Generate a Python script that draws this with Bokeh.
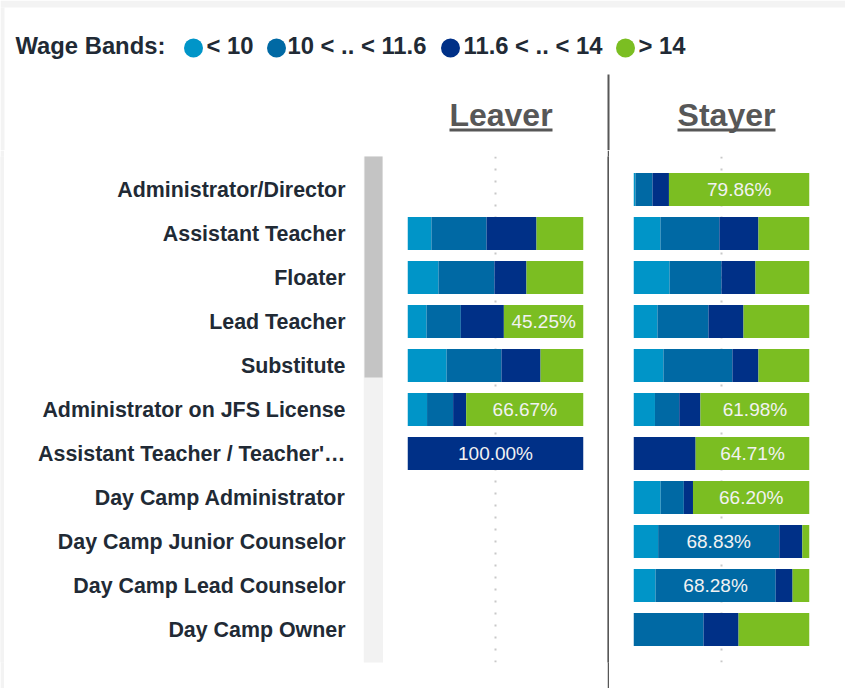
from bokeh.plotting import figure
from bokeh.layouts import column, row
from bokeh.models import ColumnDataSource, FactorRange, Range1d, FixedTicker, Grid
from bokeh.core.properties import value
from bokeh.embed import file_html
from bokeh.resources import INLINE

# ---------------- data ----------------
roles = ["Administrator/Director", "Assistant Teacher", "Floater", "Lead Teacher",
         "Substitute", "Administrator on JFS License", "Assistant Teacher / Teacher'\u2026",
         "Day Camp Administrator", "Day Camp Junior Counselor", "Day Camp Lead Counselor",
         "Day Camp Owner"]
band_labels = ["< 10", "10 < .. < 11.6", "11.6 < .. < 14", "> 14"]
band_keys = ["b1", "b2", "b3", "b4"]
panel_titles = ["Leaver", "Stayer"]

leaver_b1 = [0, 13.6, 17.6, 10.8, 22.2, 11.11, 0, 0, 0, 0, 0]
leaver_b2 = [0, 31.3, 31.8, 19.5, 31.2, 14.81, 0, 0, 0, 0, 0]
leaver_b3 = [0, 28.4, 18.2, 24.45, 22.2, 7.41, 100.0, 0, 0, 0, 0]
leaver_b4 = [0, 26.7, 32.4, 45.25, 24.4, 66.67, 0, 0, 0, 0, 0]

stayer_b1 = [1.1, 15.3, 20.5, 13.6, 17.0, 12.2, 0, 15.4, 14.0, 12.5, 0]
stayer_b2 = [9.7, 33.5, 29.5, 29.0, 39.2, 13.8, 0, 13.2, 68.83, 68.28, 39.8]
stayer_b3 = [9.34, 22.2, 19.3, 19.9, 14.8, 12.02, 35.29, 5.2, 13.1, 9.61, 19.9]
stayer_b4 = [79.86, 29.0, 30.7, 37.5, 29.0, 61.98, 64.71, 66.2, 4.07, 9.61, 40.3]

grid_ticks = [0, 50]
label_threshold = 45

# ---------------- styles ----------------
colors = ["#0095C8", "#0069A4", "#003087", "#7BBE22"]
FONT = value("Liberation Sans")
dark = "#212a35"
grey = "#575757"
chrome = "#f3f3f3"

yr = FactorRange(factors=roles[::-1], range_padding=0.25, range_padding_units="absolute")

ROW_H = 538
TOP_H = 150
FRAME_TOP = 156      # page y of the bar panels' frame top
FRAME_BOTTOM = 662   # page y of the bar panels' frame bottom


def base_fig(width, height, x_range, y_range, fill="white", **kw):
    p = figure(width=width, height=height, x_range=x_range, y_range=y_range,
               toolbar_location=None, output_backend="svg",
               x_axis_location=None, y_axis_location=None, **kw)
    p.outline_line_color = None
    p.grid.visible = False
    p.background_fill_color = fill
    p.border_fill_color = fill
    return p


# ---------------- top: legend, headers ----------------
top = base_fig(845, TOP_H, Range1d(0, 845), Range1d(TOP_H, 0), min_border=0)
top.quad(left=[0], right=[845], top=[0], bottom=[7], fill_color=chrome, line_color=None)
top.quad(left=[0], right=[4], top=[7], bottom=[TOP_H], fill_color=chrome, line_color=None)
top.text(x=[15], y=[45], text=["Wage Bands:"], text_font=FONT, text_font_size="23.8px",
         text_font_style="bold", text_color=dark, text_baseline="middle")
leg_circle_x = [193, 276, 450, 625]
leg_text_x = [206, 287, 463, 638]
top.scatter(x=leg_circle_x, y=[47.5] * 4, size=19, marker="circle",
            fill_color=colors, line_color=None)
top.text(x=leg_text_x, y=[45] * 4, text=band_labels, text_font=FONT, text_font_size="23.8px",
         text_font_style="bold", text_color=dark, text_baseline="middle")
top.text(x=[500.5, 726], y=[114.5, 114.5], text=panel_titles, text_font=FONT,
         text_font_size="32px", text_font_style="bold", text_color=grey,
         text_align="center", text_baseline="middle")
top.segment(x0=[449, 677], x1=[552, 775], y0=[129.5, 129.5], y1=[129.5, 129.5],
            line_color=grey, line_width=3)
top.segment(x0=[608], x1=[608], y0=[74], y1=[TOP_H], line_color=grey, line_width=2)

# ---------------- left chrome strip ----------------
strip = base_fig(4, ROW_H, Range1d(0, 1), Range1d(0, 1), fill=chrome, min_border=0)
strip.quad(left=[0], right=[1], bottom=[0], top=[1], fill_color=chrome, line_color=None)

# ---------------- labels (category axis) ----------------
labels = figure(width=359, height=ROW_H, x_range=Range1d(0, 1), y_range=yr,
                toolbar_location=None, output_backend="svg",
                x_axis_location=None, y_axis_location="left",
                min_border_left=351, min_border_right=0,
                min_border_top=FRAME_TOP - TOP_H, min_border_bottom=TOP_H + ROW_H - FRAME_BOTTOM)
labels.outline_line_color = None
labels.grid.visible = False
ax = labels.yaxis[0]
ax.axis_line_color = None
ax.major_tick_line_color = None
ax.major_tick_in = 0
ax.major_tick_out = 0
ax.major_label_standoff = 10
ax.major_label_text_font = "Liberation Sans"
ax.major_label_text_font_size = "21.4px"
ax.major_label_text_font_style = "bold"
ax.major_label_text_color = dark

# ---------------- scrollbar (frame-aligned with the panels) ----------------
scroll = base_fig(20, ROW_H, Range1d(363, 383), Range1d(FRAME_BOTTOM, FRAME_TOP),
                  min_border_left=0, min_border_right=0,
                  min_border_top=FRAME_TOP - TOP_H, min_border_bottom=TOP_H + ROW_H - FRAME_BOTTOM)
scroll.quad(left=[363], right=[383], top=[155], bottom=[664], fill_color="#f2f2f2", line_color=None)
scroll.quad(left=[364], right=[382], top=[155], bottom=[377], fill_color="#c4c4c4", line_color=None)


# ---------------- bar panels ----------------
def panel(width, bl, br, vals):
    p = base_fig(width, ROW_H, Range1d(0, 100), yr, min_border_left=bl, min_border_right=br,
                 min_border_top=FRAME_TOP - TOP_H, min_border_bottom=TOP_H + ROW_H - FRAME_BOTTOM)
    g = Grid(dimension=0, ticker=FixedTicker(ticks=grid_ticks), grid_line_color="#c8c8c8",
             grid_line_width=2, grid_line_dash="2 10")
    p.add_layout(g, "center")
    data = {"role": roles}
    for k, v in zip(band_keys, vals):
        data[k] = v
    src = ColumnDataSource(data)
    p.hbar_stack(band_keys, y="role", height=0.75, source=src, fill_color=colors, line_color=None)
    lx, ly, lt = [], [], []
    for i, r in enumerate(roles):
        cum = 0.0
        for v in vals:
            vi = v[i]
            if vi >= label_threshold:
                lx.append(cum + vi / 2)
                ly.append(r)
                lt.append("%.2f%%" % vi)
            cum += vi
    p.text(x=lx, y=ly, text=lt, text_font=FONT, text_font_size="19px", text_color="#f2f2f2",
           text_align="center", text_baseline="middle")
    return p


leaver = panel(224, 24, 24, [leaver_b1, leaver_b2, leaver_b3, leaver_b4])
stayer = panel(236, 24, 36, [stayer_b1, stayer_b2, stayer_b3, stayer_b4])

divider = base_fig(2, ROW_H, Range1d(0, 1), Range1d(0, 1), fill=grey, min_border=0)
divider.quad(left=[0], right=[1], bottom=[0], top=[1], fill_color=grey, line_color=None)

layout = column(top, row(strip, labels, scroll, leaver, divider, stayer))

open("out.html", "w").write(file_html(layout, INLINE))
